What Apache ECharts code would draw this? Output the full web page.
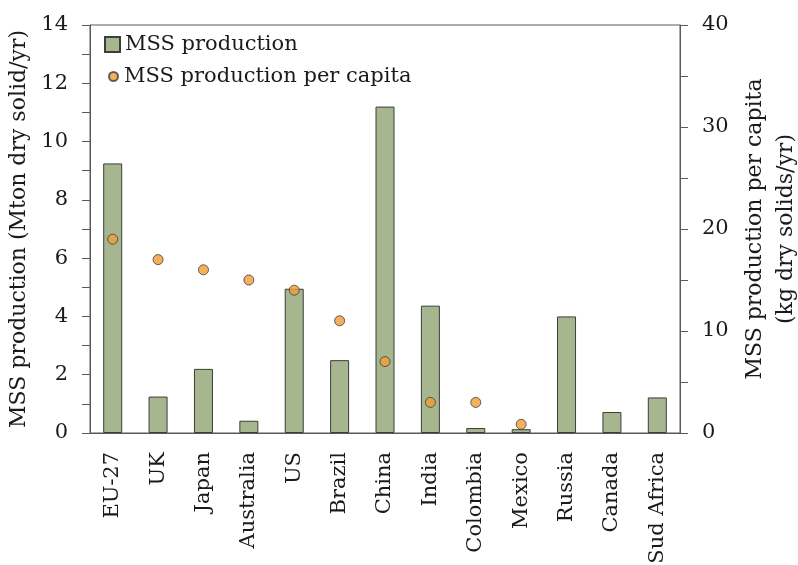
<!DOCTYPE html>
<html><head><meta charset="utf-8">
<script src="https://cdn.jsdelivr.net/npm/echarts@6/dist/echarts.min.js"></script>
<style>html,body{margin:0;padding:0;background:#fff}#c{width:798px;height:565px}</style>
</head><body><div id="c"></div>
<script>
const categories = ['EU-27','UK','Japan','Australia','US','Brazil','China','India','Colombia','Mexico','Russia','Canada','Sud Africa'];
const production = [9.25, 1.25, 2.2, 0.42, 4.95, 2.5, 11.2, 4.37, 0.17, 0.13, 4.0, 0.72, 1.22];
const perCapita = [19, 17, 16, 15, 14, 11, 7, 3, 3, 0.85, null, null, null];
const leftTicks = [0, 14, 2];
const rightTicks = [0, 40, 10];

const FONT = 'DejaVu Serif';
const AX = '#595959';
const TXT = '#1a1a1a';
const chart = echarts.init(document.getElementById('c'));
chart.setOption({
  animation: false,
  textStyle: {fontFamily: FONT, color: TXT},
  grid: {left: 90, right: 118, top: 25, bottom: 132, show: true, borderColor: AX, borderWidth: 1,
         containLabel: false, outerBoundsMode: 'none'},
  legend: [
    {data: [{name: 'MSS production', icon: 'rect'}], left: 104, top: 34, padding: 0, orient: 'vertical', itemWidth: 15, itemHeight: 15,
     textStyle: {fontFamily: FONT, fontSize: 21, color: TXT}},
    {data: [{name: 'MSS production per capita', icon: 'circle'}], left: 108, top: 66, padding: 0, orient: 'vertical', itemWidth: 9, itemHeight: 9,
     textStyle: {fontFamily: FONT, fontSize: 21, color: TXT, padding: [0,0,0,1]}}
  ],
  xAxis: {
    type: 'category', data: categories,
    axisLine: {lineStyle: {color: AX, width: 1}},
    axisTick: {show: false},
    axisLabel: {rotate: 90, margin: 19, fontFamily: FONT, fontSize: 21, color: TXT, interval: 0}
  },
  yAxis: [
    {type: 'value', min: leftTicks[0], max: leftTicks[1], interval: leftTicks[2],
     name: 'MSS production (Mton dry solid/yr)', nameLocation: 'middle', nameRotate: 90, nameGap: 52,
     nameTextStyle: {fontFamily: FONT, fontSize: 22, color: TXT},
     axisLine: {show: true, lineStyle: {color: AX, width: 1}},
     axisTick: {show: true, inside: false, length: 8, lineStyle: {color: AX}},
     minorTick: {show: true, splitNumber: 2, length: 8, lineStyle: {color: AX}},
     splitLine: {show: false},
     axisLabel: {margin: 22, fontFamily: FONT, fontSize: 21, color: TXT}},
    {type: 'value', min: rightTicks[0], max: rightTicks[1], interval: rightTicks[2], position: 'right',
     name: 'MSS production per capita\n(kg dry solids/yr)', nameLocation: 'middle', nameRotate: 90, nameGap: 57,
     nameTextStyle: {fontFamily: FONT, fontSize: 22, color: TXT, lineHeight: 31, align: 'center'},
     axisLine: {show: true, lineStyle: {color: AX, width: 1}},
     axisTick: {show: true, inside: false, length: 8, lineStyle: {color: AX}},
     minorTick: {show: true, splitNumber: 2, length: 8, lineStyle: {color: AX}},
     splitLine: {show: false},
     axisLabel: {margin: 22, fontFamily: FONT, fontSize: 21, color: TXT}}
  ],
  series: [
    {name: 'MSS production', type: 'bar', data: production, yAxisIndex: 0, barWidth: 19,
     itemStyle: {color: '#a6b68f', borderColor: '#3d3d3d', borderWidth: 1}},
    {name: 'MSS production per capita', type: 'scatter', data: perCapita, yAxisIndex: 1, symbolSize: 10,
     itemStyle: {color: '#f39c37', borderColor: '#3d3d3d', borderWidth: 1}, z: 5}
  ]
});
</script></body></html>
